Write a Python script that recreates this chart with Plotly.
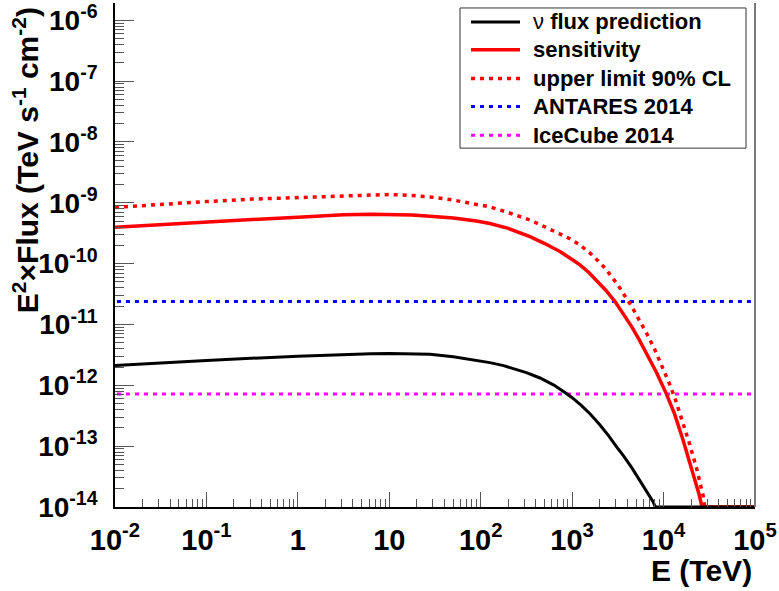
import plotly.graph_objects as go

# ---------------- data ----------------
E_pred = [0.01, 0.0316, 0.1, 1, 3.16, 6.31, 10, 17.8, 27.9, 50.1, 89.7, 126, 178, 251, 316, 445,
          631, 834, 1000, 1259, 1585, 1995, 2512, 3162, 3614, 4467, 5495, 6607, 7674, 8128, 1e5]
F_pred = [2.12e-12, 2.34e-12, 2.57e-12, 3.01e-12, 3.22e-12, 3.31e-12, 3.33e-12, 3.29e-12,
          3.24e-12, 2.95e-12, 2.60e-12, 2.36e-12, 2.11e-12, 1.82e-12, 1.62e-12, 1.32e-12,
          1.01e-12, 7.62e-13, 6.27e-13, 4.68e-13, 3.34e-13, 2.27e-13, 1.48e-13, 9.14e-14,
          7.08e-14, 4.47e-14, 2.75e-14, 1.78e-14, 1.22e-14, 1e-14, 1e-14]

E_sens = [0.01, 0.0316, 0.1, 0.316, 1, 3.16, 6.31, 10, 17.8, 27.9, 50.1, 89.7, 126, 200, 346,
          501, 735, 1000, 1216, 1514, 1888, 2344, 2931, 3631, 4457, 5370, 6501, 8318, 10765,
          13183, 16331, 19953, 24434, 26303, 1e5]
F_sens = [3.98e-10, 4.42e-10, 4.88e-10, 5.32e-10, 5.77e-10, 6.34e-10, 6.49e-10, 6.46e-10,
          6.31e-10, 6.04e-10, 5.62e-10, 5.01e-10, 4.57e-10, 3.80e-10, 2.77e-10, 2.14e-10,
          1.58e-10, 1.17e-10, 9.55e-11, 7.24e-11, 5.19e-11, 3.63e-11, 2.40e-11, 1.51e-11,
          9.33e-12, 5.75e-12, 3.39e-12, 1.66e-12, 7.18e-13, 3.39e-13, 1.26e-13, 4.68e-14,
          1.62e-14, 1e-14, 1e-14]

E_ul = [0.01, 0.0316, 0.1, 0.316, 1, 3.16, 6.31, 10, 17.8, 27.9, 50.1, 89.7, 126, 200, 346,
        562, 944, 1213, 1660, 2280, 3162, 4457, 5370, 6501, 7943, 9886, 11482, 13243, 15849,
        19320, 22909, 26977, 28184, 1e5]
F_ul = [8.41e-10, 9.55e-10, 1.05e-9, 1.15e-9, 1.22e-9, 1.33e-9, 1.37e-9, 1.37e-9, 1.32e-9,
        1.25e-9, 1.11e-9, 9.59e-10, 8.57e-10, 6.92e-10, 5.20e-10, 3.72e-10, 2.57e-10, 2.04e-10,
        1.38e-10, 8.51e-11, 4.47e-11, 2.0e-11, 1.23e-11, 7.24e-12, 3.98e-12, 1.91e-12, 1.10e-12,
        6.31e-13, 2.75e-13, 1.07e-13, 4.37e-14, 1.58e-14, 1e-14, 1e-14]

E_lim = [0.0105, 1e5]
F_antares = [2.38e-11, 2.38e-11]
F_icecube = [7.2e-13, 7.2e-13]

series_names = ["ν flux prediction", "sensitivity", "upper limit 90% CL", "ANTARES 2014", "IceCube 2014"]

x_tickvals = [1e-2, 1e-1, 1, 10, 1e2, 1e3, 1e4, 1e5]
x_ticktext = ["10<sup>-2</sup>", "10<sup>-1</sup>", "1", "10", "10<sup>2</sup>",
              "10<sup>3</sup>", "10<sup>4</sup>", "10<sup>5</sup>"]
y_tickvals = [1e-14, 1e-13, 1e-12, 1e-11, 1e-10, 1e-9, 1e-8, 1e-7, 1e-6]
y_ticktext = ["10<sup>-14</sup>", "10<sup>-13</sup>", "10<sup>-12</sup>", "10<sup>-11</sup>",
              "10<sup>-10</sup>", "10<sup>-9</sup>", "10<sup>-8</sup>", "10<sup>-7</sup>",
              "10<sup>-6</sup>"]

x_minor = [m * 10.0 ** k for k in range(-2, 5) for m in range(2, 10)]
y_minor = [m * 10.0 ** k for k in range(-14, -5) for m in range(2, 10)]

# ---------------- figure ----------------
W, H = 779, 591
ML, MR, MT, MB = 115, 24, 0, 84
PW, PH = W - ML - MR, H - MT - MB

def px(xp):
    return (xp - ML) / PW

def py(yp):
    return (H - MB - yp) / PH

colors = ["#000000", "#ff0000", "#ff0000", "#0000ff", "#ff00ff"]
dashes = ["solid", "solid", "4px,5px", "4px,5px", "4px,5px"]
widths = [3, 3.5, 3.5, 3, 3]
xs = [E_pred, E_sens, E_ul, E_lim, E_lim]
ys = [F_pred, F_sens, F_ul, F_antares, F_icecube]

fig = go.Figure()
order = [3, 4, 2, 1, 0]
for i in order:
    fig.add_trace(go.Scatter(x=xs[i], y=ys[i], mode="lines", name=series_names[i],
                             line=dict(color=colors[i], width=widths[i], dash=dashes[i]),
                             showlegend=False))

font_family = "Liberation Sans, Arial, Helvetica, sans-serif"

fig.update_xaxes(type="log", range=[-2, 5], showgrid=False, zeroline=False,
                 showline=True, linecolor="#000000", linewidth=1.5,
                 ticks="inside", ticklen=15, tickcolor="#555555", tickwidth=1.2,
                 tickmode="array", tickvals=x_tickvals, ticktext=x_ticktext,
                 tickfont=dict(family=font_family, size=29, color="#000000", weight="bold"),
                 ticklabeloverflow="allow", ticklabelstandoff=6,
                 minor=dict(ticks="inside", ticklen=8, tickcolor="#555555", tickwidth=1.2,
                            tickmode="array", tickvals=x_minor, showgrid=False))
fig.update_yaxes(type="log", range=[-14, -14 + PH / 61.2], showgrid=False, zeroline=False,
                 showline=True, linecolor="#000000", linewidth=1.5,
                 ticks="inside", ticklen=19, tickcolor="#555555", tickwidth=1.2,
                 tickmode="array", tickvals=y_tickvals, ticktext=y_ticktext,
                 tickfont=dict(family=font_family, size=28, color="#000000", weight="bold"),
                 ticklabeloverflow="allow", ticklabelstandoff=10,
                 minor=dict(ticks="inside", ticklen=9, tickcolor="#555555", tickwidth=1.2,
                            tickmode="array", tickvals=y_minor, showgrid=False))

shapes = []
# right frame
shapes.append(dict(type="line", xref="paper", yref="paper", x0=1, x1=1, y0=0, y1=1,
                   line=dict(color="#7a7a7a", width=2)))
# legend box
shapes.append(dict(type="rect", xref="paper", yref="paper", x0=px(460), x1=px(746),
                   y0=py(146), y1=py(5), fillcolor="white", line=dict(color="#333333", width=1),
                   layer="above"))
rows = [19, 47, 76, 104, 133]
annotations = []
for i, r in enumerate(rows):
    shapes.append(dict(type="line", xref="paper", yref="paper", x0=px(471), x1=px(520),
                       y0=py(r), y1=py(r), layer="above",
                       line=dict(color=colors[i], width=widths[i], dash=dashes[i])))
    label = series_names[i]
    if label.startswith("ν"):
        text = "ν <b>" + label[2:] + "</b>"
    else:
        text = "<b>" + label + "</b>"
    annotations.append(dict(xref="paper", yref="paper", x=px(531), y=py(r), text=text,
                            showarrow=False, xanchor="left", yanchor="middle",
                            font=dict(family=font_family, size=22, color="#000000")))

# axis titles
annotations.append(dict(xref="paper", yref="paper", x=px(754), y=py(571),
                        text="<b>E (TeV)</b>", showarrow=False, xanchor="right", yanchor="middle",
                        font=dict(family=font_family, size=30, color="#000000")))
annotations.append(dict(xref="paper", yref="paper", x=px(26), y=py(314),
                        text="<b>E<sup>2</sup>×Flux (TeV s<sup>-1</sup> cm<sup>-2</sup>)</b>",
                        textangle=-90, showarrow=False, xanchor="center", yanchor="bottom",
                        font=dict(family=font_family, size=30, color="#000000")))

fig.update_layout(width=W, height=H, margin=dict(l=ML, r=MR, t=MT, b=MB, pad=0),
                  paper_bgcolor="white", plot_bgcolor="white",
                  shapes=shapes, annotations=annotations, showlegend=False)

fig.write_html("out.html")
